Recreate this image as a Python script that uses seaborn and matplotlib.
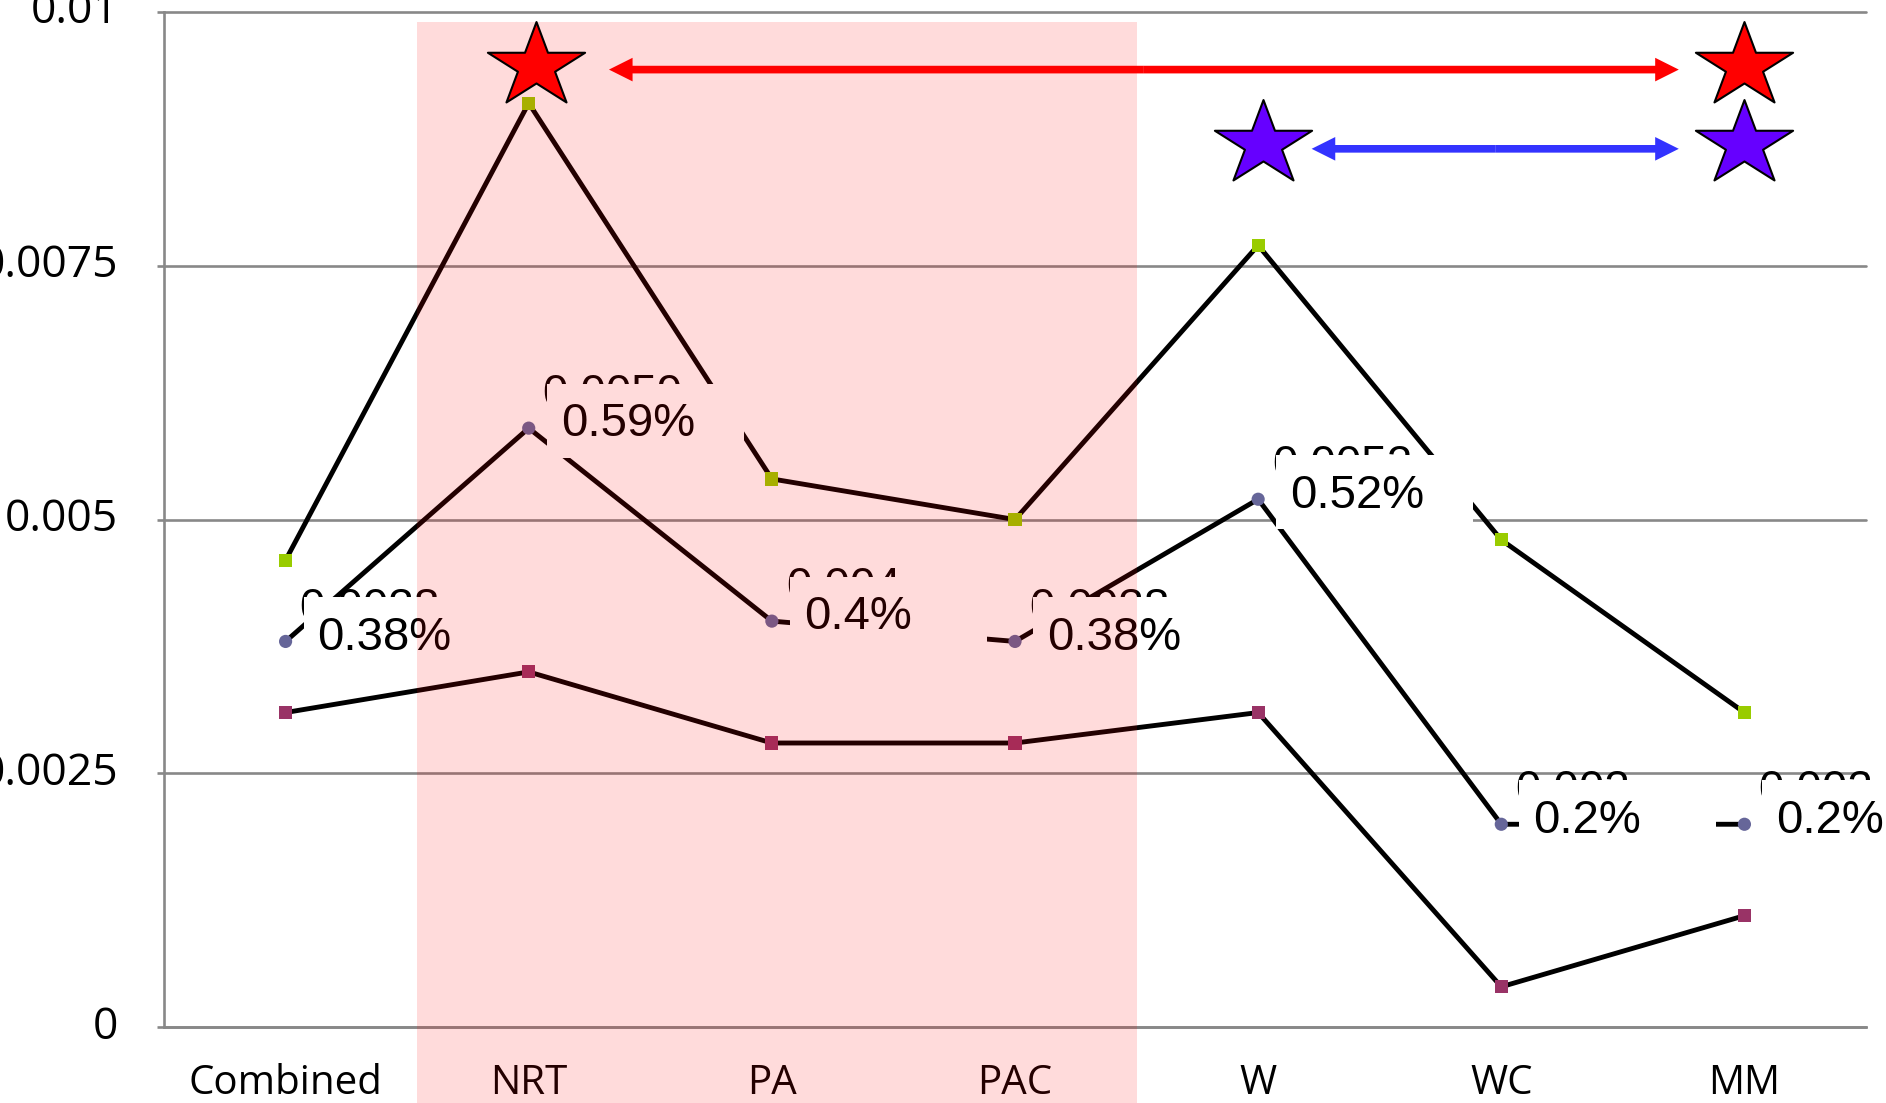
import numpy as np
import pandas as pd
import matplotlib
matplotlib.use("Agg")
import matplotlib.pyplot as plt
import matplotlib.transforms as mtransforms
from matplotlib.patches import Rectangle, FancyArrowPatch
from matplotlib.path import Path
import seaborn as sns

# ---- data -------------------------------------------------------------
categories = ["Combined", "NRT", "PA", "PAC", "W", "WC", "MM"]
upper_rate = [0.0046, 0.0091, 0.0054, 0.0050, 0.0077, 0.0048, 0.0031]
middle_rate = [0.0038, 0.0059, 0.0040, 0.0038, 0.0052, 0.0020, 0.0020]
lower_rate = [0.0031, 0.0035, 0.0028, 0.0028, 0.0031, 0.0004, 0.0011]

y_ticks = [0, 0.0025, 0.005, 0.0075, 0.01]
y_tick_labels = ["0", "0.0025", "0.005", "0.0075", "0.01"]

# highlighted block of categories (NRT .. PAC)
shade_x = [0.54, 3.5]
shade_top = 0.0099

# significance markers and the comparisons they connect
red_star_x = [1.03, 6.0]
red_star_y = [0.00947, 0.00947]
purple_star_x = [4.02, 6.0]
purple_star_y = [0.0087, 0.0087]
red_arrow_x = [1.33, 5.73]
red_arrow_y = 0.00943
blue_arrow_x = [4.22, 5.73]
blue_arrow_y = 0.00865

series_colors = {"upper": "#99CC00", "middle": "#666699", "lower": "#993366"}
series_markers = {"upper": "s", "middle": "o", "lower": "s"}

# ---- long-form table ----------------------------------------------------
pos = np.arange(len(categories))
df = pd.DataFrame({
    "pos": np.tile(pos, 3),
    "rate": upper_rate + middle_rate + lower_rate,
    "series": ["upper"] * len(pos) + ["middle"] * len(pos) + ["lower"] * len(pos),
})

sns.set_theme(style="white")
plt.rcParams["font.family"] = ["Open Sans", "DejaVu Sans"]

fig = plt.figure(figsize=(18.86, 11.03), dpi=100)
ax = fig.add_axes([0.08696, 0.06854, 0.90244, 0.92085])

GRID = "#888888"

sns.lineplot(data=df, x="pos", y="rate", units="series", estimator=None,
             color="black", linewidth=3.5, legend=False, ax=ax, zorder=2)
sns.scatterplot(data=df, x="pos", y="rate", hue="series", style="series",
                palette=series_colors, markers=series_markers, s=90,
                linewidth=0, legend=False, ax=ax, zorder=3)

# ---- data labels: value text partly covered by a white box with the percent
def point_offset(x, y):
    return fig.dpi_scale_trans + mtransforms.ScaledTranslation(x, y, ax.transData)

for i, v in enumerate(middle_rate):
    ax.annotate(f"{v:g}", xy=(i, v), xytext=(10, 15), textcoords="offset points",
                ha="left", va="baseline", fontsize=33, family="Liberation Sans",
                color="black", zorder=4, annotation_clip=False)
    ax.add_patch(Rectangle((0.18, -0.30), 1.97, 0.74, transform=point_offset(i, v),
                           facecolor="white", edgecolor="none", zorder=5, clip_on=False))
    ax.annotate(f"{v * 100:g}%", xy=(i, v), xytext=(23, -6), textcoords="offset points",
                ha="left", va="baseline", fontsize=34, family="Liberation Sans",
                color="black", zorder=6, annotation_clip=False)

# ---- translucent highlight over NRT..PAC --------------------------------
ax.add_patch(Rectangle((shade_x[0], -0.002), shade_x[1] - shade_x[0], shade_top + 0.002,
                       facecolor="#FF0000", alpha=0.14, edgecolor="none",
                       zorder=7, clip_on=False))

# ---- arrows -------------------------------------------------------------
def double_arrow(xs, y, color):
    mid = (xs[0] + xs[1]) / 2
    for end in xs:
        ax.add_patch(FancyArrowPatch(
            (mid, y), (end, y),
            arrowstyle="simple,head_length=17,head_width=17,tail_width=5.5",
            mutation_scale=1, color=color, lw=0, shrinkA=0, shrinkB=0,
            zorder=8, clip_on=False))

double_arrow(red_arrow_x, red_arrow_y, "#FF0000")
double_arrow(blue_arrow_x, blue_arrow_y, "#3333FF")

# ---- stars --------------------------------------------------------------
ang = np.pi / 2 + np.arange(10) * np.pi / 5
rad = np.where(np.arange(10) % 2 == 0, 1.0, 0.382)
star_pts = np.column_stack([1.15 * rad * np.cos(ang), rad * np.sin(ang)])
star_path = Path(np.vstack([star_pts, star_pts[:1]]), closed=True)

sns.scatterplot(x=red_star_x, y=red_star_y, marker=star_path, s=70 ** 2,
                color="#FF0000", edgecolor="black", linewidth=1.5,
                legend=False, ax=ax, zorder=9, clip_on=False)
sns.scatterplot(x=purple_star_x, y=purple_star_y, marker=star_path, s=70 ** 2,
                color="#6600FF", edgecolor="black", linewidth=1.5,
                legend=False, ax=ax, zorder=9, clip_on=False)

# ---- axes styling -------------------------------------------------------
ax.set_xlim(-0.5, 6.5)
ax.set_ylim(0, 0.01)
ax.set_xticks(pos)
ax.set_xticklabels(categories)
ax.set_xticks(np.arange(-0.5, 7.0, 1.0), minor=True)
ax.set_yticks(y_ticks)
ax.set_yticklabels(y_tick_labels)
ax.set_xlabel("")
ax.set_ylabel("")

ax.tick_params(axis="x", which="major", length=0, pad=26, labelsize=29, labelcolor="black")
ax.tick_params(axis="x", which="minor", length=5.5, width=1.1, color=GRID, direction="out")
ax.tick_params(axis="y", which="major", length=5, width=1.9, color=GRID, direction="out",
               pad=28, labelsize=32, labelcolor="black", left=True)
for lbl in ax.get_yticklabels():
    lbl.set_va("center")

ax.set_axisbelow(True)
ax.yaxis.grid(True, color=GRID, linewidth=1.9)
ax.xaxis.grid(False)
for gl in ax.get_ygridlines():
    gl.set_clip_on(False)

for side in ("top", "right"):
    ax.spines[side].set_visible(False)
for side in ("left", "bottom"):
    ax.spines[side].set_color(GRID)
    ax.spines[side].set_linewidth(1.9)

fig.savefig("out.png", dpi=100)
